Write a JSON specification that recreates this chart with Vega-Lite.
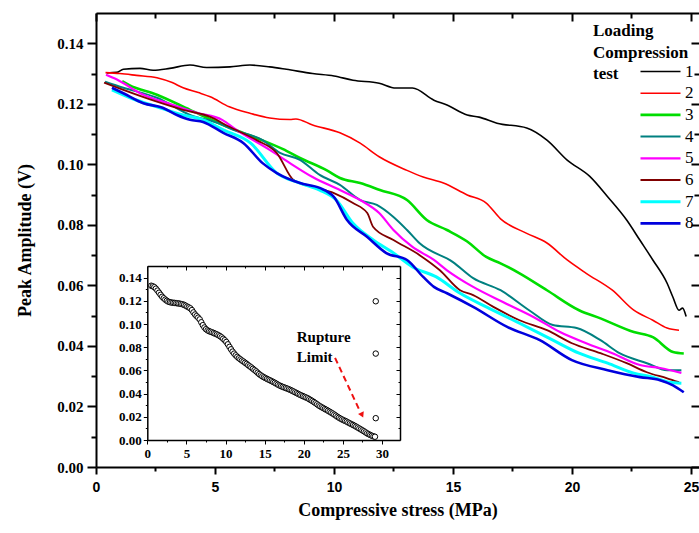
{
  "$schema": "https://vega.github.io/schema/vega-lite/v6.json",
  "autosize": {"type": "none"},
  "padding": {"left": 96, "top": 13, "right": 0, "bottom": 66},
  "width": 603,
  "height": 454,
  "background": "white",
  "config": {"view": {"stroke": null}, "font": "Liberation Serif"},
  "datasets": {
    "main": [
      {"t":"1","s":0.45,"a":0.1302},{"t":"1","s":0.87,"a":0.1304},{"t":"1","s":1.15,"a":0.1314},{"t":"1","s":1.85,"a":0.1317},{"t":"1","s":2.4,"a":0.1311},{"t":"1","s":3.1,"a":0.1317},{"t":"1","s":3.95,"a":0.1328},{"t":"1","s":4.65,"a":0.132},{"t":"1","s":5.63,"a":0.1322},{"t":"1","s":6.47,"a":0.1328},{"t":"1","s":7.3,"a":0.1322},{"t":"1","s":8.0,"a":0.1314},{"t":"1","s":9.1,"a":0.130},{"t":"1","s":10.0,"a":0.1292},{"t":"1","s":10.8,"a":0.1278},{"t":"1","s":11.9,"a":0.1268},{"t":"1","s":12.6,"a":0.1252},{"t":"1","s":13.3,"a":0.1252},{"t":"1","s":14.2,"a":0.1212},{"t":"1","s":14.75,"a":0.1196},{"t":"1","s":15.6,"a":0.1163},{"t":"1","s":16.1,"a":0.1156},{"t":"1","s":16.85,"a":0.1136},{"t":"1","s":18.1,"a":0.112},{"t":"1","s":18.95,"a":0.108},{"t":"1","s":19.8,"a":0.1014},{"t":"1","s":20.75,"a":0.096},{"t":"1","s":21.5,"a":0.0893},{"t":"1","s":22.3,"a":0.0816},{"t":"1","s":22.86,"a":0.0749},{"t":"1","s":23.4,"a":0.0684},{"t":"1","s":24.0,"a":0.0607},{"t":"1","s":24.25,"a":0.056},{"t":"1","s":24.5,"a":0.0518},{"t":"1","s":24.65,"a":0.0525},{"t":"1","s":24.8,"a":0.0497},
      {"t":"2","s":0.4,"a":0.1303},{"t":"2","s":1.0,"a":0.130},{"t":"2","s":1.7,"a":0.1294},{"t":"2","s":2.56,"a":0.1286},{"t":"2","s":3.2,"a":0.127},{"t":"2","s":3.66,"a":0.1253},{"t":"2","s":4.3,"a":0.1237},{"t":"2","s":4.8,"a":0.1223},{"t":"2","s":5.6,"a":0.119},{"t":"2","s":6.5,"a":0.1168},{"t":"2","s":7.3,"a":0.1153},{"t":"2","s":8.15,"a":0.1148},{"t":"2","s":8.4,"a":0.115},{"t":"2","s":9.1,"a":0.113},{"t":"2","s":10.25,"a":0.1104},{"t":"2","s":11.1,"a":0.107},{"t":"2","s":11.9,"a":0.1025},{"t":"2","s":13.07,"a":0.098},{"t":"2","s":13.75,"a":0.0958},{"t":"2","s":14.6,"a":0.0938},{"t":"2","s":15.6,"a":0.0899},{"t":"2","s":16.4,"a":0.0872},{"t":"2","s":17.0,"a":0.082},{"t":"2","s":18.1,"a":0.0772},{"t":"2","s":18.95,"a":0.074},{"t":"2","s":19.8,"a":0.0684},{"t":"2","s":20.6,"a":0.064},{"t":"2","s":21.7,"a":0.0584},{"t":"2","s":22.6,"a":0.0518},{"t":"2","s":23.4,"a":0.0485},{"t":"2","s":24.0,"a":0.0459},{"t":"2","s":24.5,"a":0.0452},
      {"t":"3","s":1.1,"a":0.1275},{"t":"3","s":1.4,"a":0.1262},{"t":"3","s":2.56,"a":0.123},{"t":"3","s":3.95,"a":0.118},{"t":"3","s":5.35,"a":0.113},{"t":"3","s":6.75,"a":0.1087},{"t":"3","s":7.86,"a":0.105},{"t":"3","s":8.57,"a":0.1021},{"t":"3","s":9.7,"a":0.098},{"t":"3","s":10.25,"a":0.0955},{"t":"3","s":11.1,"a":0.0938},{"t":"3","s":11.93,"a":0.0915},{"t":"3","s":13.07,"a":0.0882},{"t":"3","s":13.9,"a":0.0816},{"t":"3","s":14.75,"a":0.0783},{"t":"3","s":15.6,"a":0.0745},{"t":"3","s":16.4,"a":0.0694},{"t":"3","s":17.0,"a":0.0673},{"t":"3","s":17.8,"a":0.064},{"t":"3","s":18.95,"a":0.0584},{"t":"3","s":20.3,"a":0.0518},{"t":"3","s":21.2,"a":0.0491},{"t":"3","s":22.6,"a":0.0446},{"t":"3","s":23.4,"a":0.0429},{"t":"3","s":24.25,"a":0.038},{"t":"3","s":24.7,"a":0.0375},
      {"t":"4","s":0.38,"a":0.1273},{"t":"4","s":1.15,"a":0.1253},{"t":"4","s":2.56,"a":0.122},{"t":"4","s":3.95,"a":0.1163},{"t":"4","s":5.1,"a":0.1137},{"t":"4","s":5.77,"a":0.1114},{"t":"4","s":7.0,"a":0.108},{"t":"4","s":7.73,"a":0.1038},{"t":"4","s":8.57,"a":0.1015},{"t":"4","s":9.4,"a":0.0965},{"t":"4","s":10.25,"a":0.0932},{"t":"4","s":11.1,"a":0.0882},{"t":"4","s":11.8,"a":0.0866},{"t":"4","s":12.5,"a":0.0826},{"t":"4","s":13.07,"a":0.0783},{"t":"4","s":13.6,"a":0.0739},{"t":"4","s":15.0,"a":0.0677},{"t":"4","s":15.85,"a":0.0624},{"t":"4","s":17.0,"a":0.0584},{"t":"4","s":18.2,"a":0.0518},{"t":"4","s":19.2,"a":0.0469},{"t":"4","s":20.2,"a":0.0459},{"t":"4","s":21.2,"a":0.0419},{"t":"4","s":22.0,"a":0.0376},{"t":"4","s":23.15,"a":0.0343},{"t":"4","s":24.0,"a":0.032},{"t":"4","s":24.6,"a":0.032},
      {"t":"5","s":0.42,"a":0.1296},{"t":"5","s":0.88,"a":0.128},{"t":"5","s":1.85,"a":0.1235},{"t":"5","s":3.24,"a":0.1196},{"t":"5","s":4.24,"a":0.117},{"t":"5","s":5.3,"a":0.1147},{"t":"5","s":5.9,"a":0.1114},{"t":"5","s":7.3,"a":0.1048},{"t":"5","s":8.15,"a":0.1004},{"t":"5","s":9.1,"a":0.0958},{"t":"5","s":10.25,"a":0.0915},{"t":"5","s":11.1,"a":0.0882},{"t":"5","s":11.9,"a":0.0839},{"t":"5","s":12.5,"a":0.0783},{"t":"5","s":13.3,"a":0.0727},{"t":"5","s":14.2,"a":0.0684},{"t":"5","s":14.75,"a":0.065},{"t":"5","s":15.85,"a":0.0595},{"t":"5","s":17.1,"a":0.0545},{"t":"5","s":18.4,"a":0.0495},{"t":"5","s":19.5,"a":0.0446},{"t":"5","s":20.6,"a":0.0409},{"t":"5","s":21.7,"a":0.0376},{"t":"5","s":22.86,"a":0.0337},{"t":"5","s":23.7,"a":0.0327},{"t":"5","s":24.6,"a":0.0311},
      {"t":"6","s":0.34,"a":0.127},{"t":"6","s":1.15,"a":0.1246},{"t":"6","s":2.56,"a":0.1207},{"t":"6","s":3.66,"a":0.118},{"t":"6","s":4.8,"a":0.1157},{"t":"6","s":5.6,"a":0.1124},{"t":"6","s":6.75,"a":0.108},{"t":"6","s":7.6,"a":0.1037},{"t":"6","s":8.3,"a":0.0948},{"t":"6","s":9.1,"a":0.0925},{"t":"6","s":10.0,"a":0.0905},{"t":"6","s":10.8,"a":0.0872},{"t":"6","s":11.4,"a":0.0839},{"t":"6","s":11.65,"a":0.0793},{"t":"6","s":12.5,"a":0.075},{"t":"6","s":13.6,"a":0.070},{"t":"6","s":14.45,"a":0.065},{"t":"6","s":15.3,"a":0.0584},{"t":"6","s":15.85,"a":0.0568},{"t":"6","s":16.7,"a":0.0529},{"t":"6","s":17.8,"a":0.0485},{"t":"6","s":18.95,"a":0.0452},{"t":"6","s":20.0,"a":0.0409},{"t":"6","s":21.2,"a":0.0376},{"t":"6","s":22.3,"a":0.0343},{"t":"6","s":23.15,"a":0.0313},{"t":"6","s":24.0,"a":0.0293},{"t":"6","s":24.5,"a":0.028},
      {"t":"7","s":0.67,"a":0.1246},{"t":"7","s":1.43,"a":0.122},{"t":"7","s":2.56,"a":0.119},{"t":"7","s":3.66,"a":0.1163},{"t":"7","s":4.5,"a":0.1147},{"t":"7","s":5.35,"a":0.1114},{"t":"7","s":6.5,"a":0.107},{"t":"7","s":7.6,"a":0.0971},{"t":"7","s":8.57,"a":0.0938},{"t":"7","s":9.4,"a":0.0915},{"t":"7","s":10.1,"a":0.0882},{"t":"7","s":10.8,"a":0.0805},{"t":"7","s":11.65,"a":0.075},{"t":"7","s":12.5,"a":0.0707},{"t":"7","s":13.3,"a":0.0661},{"t":"7","s":14.3,"a":0.0628},{"t":"7","s":15.3,"a":0.0574},{"t":"7","s":16.4,"a":0.0529},{"t":"7","s":17.8,"a":0.0475},{"t":"7","s":19.2,"a":0.0419},{"t":"7","s":20.3,"a":0.0376},{"t":"7","s":21.5,"a":0.0343},{"t":"7","s":22.6,"a":0.031},{"t":"7","s":23.4,"a":0.0297},{"t":"7","s":24.1,"a":0.028},{"t":"7","s":24.6,"a":0.0277},
      {"t":"8","s":0.67,"a":0.1253},{"t":"8","s":1.15,"a":0.1235},{"t":"8","s":1.99,"a":0.1202},{"t":"8","s":2.8,"a":0.1187},{"t":"8","s":3.4,"a":0.1163},{"t":"8","s":3.95,"a":0.1147},{"t":"8","s":4.5,"a":0.114},{"t":"8","s":5.35,"a":0.1104},{"t":"8","s":6.2,"a":0.107},{"t":"8","s":7.0,"a":0.1004},{"t":"8","s":7.6,"a":0.0971},{"t":"8","s":8.57,"a":0.0938},{"t":"8","s":9.4,"a":0.0922},{"t":"8","s":10.0,"a":0.0892},{"t":"8","s":10.55,"a":0.0816},{"t":"8","s":11.4,"a":0.076},{"t":"8","s":12.2,"a":0.0707},{"t":"8","s":13.07,"a":0.0684},{"t":"8","s":13.75,"a":0.0628},{"t":"8","s":14.2,"a":0.0595},{"t":"8","s":14.75,"a":0.0574},{"t":"8","s":15.85,"a":0.0529},{"t":"8","s":17.3,"a":0.0462},{"t":"8","s":18.65,"a":0.0419},{"t":"8","s":20.0,"a":0.0353},{"t":"8","s":21.5,"a":0.032},{"t":"8","s":22.86,"a":0.0297},{"t":"8","s":23.7,"a":0.0287},{"t":"8","s":24.25,"a":0.027},{"t":"8","s":24.7,"a":0.0247}
    ],
    "inset": [
      {"s":0.5,"a":0.133},{"s":0.7,"a":0.1325},{"s":0.9,"a":0.1318},{"s":1.1,"a":0.1305},{"s":1.3,"a":0.1288},{"s":1.5,"a":0.127},{"s":1.7,"a":0.1252},{"s":1.9,"a":0.1235},{"s":2.1,"a":0.1222},{"s":2.3,"a":0.121},{"s":2.5,"a":0.12},{"s":2.7,"a":0.1192},{"s":2.9,"a":0.1188},{"s":3.1,"a":0.1185},{"s":3.3,"a":0.1183},{"s":3.5,"a":0.1182},{"s":3.7,"a":0.118},{"s":3.9,"a":0.1178},{"s":4.1,"a":0.1176},{"s":4.3,"a":0.1173},{"s":4.5,"a":0.117},{"s":4.7,"a":0.1165},{"s":4.9,"a":0.1158},{"s":5.1,"a":0.115},{"s":5.3,"a":0.1143},{"s":5.5,"a":0.1135},{"s":5.7,"a":0.112},{"s":5.9,"a":0.11},{"s":6.1,"a":0.1082},{"s":6.3,"a":0.1068},{"s":6.5,"a":0.1055},{"s":6.7,"a":0.104},{"s":6.9,"a":0.1015},{"s":7.1,"a":0.099},{"s":7.3,"a":0.097},{"s":7.5,"a":0.0955},{"s":7.7,"a":0.0945},{"s":7.9,"a":0.0938},{"s":8.1,"a":0.0933},{"s":8.3,"a":0.0928},{"s":8.5,"a":0.0922},{"s":8.7,"a":0.0916},{"s":8.9,"a":0.091},{"s":9.1,"a":0.0903},{"s":9.3,"a":0.0895},{"s":9.5,"a":0.0885},{"s":9.7,"a":0.0873},{"s":9.9,"a":0.086},{"s":10.1,"a":0.0845},{"s":10.3,"a":0.0825},{"s":10.5,"a":0.0803},{"s":10.7,"a":0.0782},{"s":10.9,"a":0.0762},{"s":11.1,"a":0.0745},{"s":11.3,"a":0.073},{"s":11.5,"a":0.0717},{"s":11.7,"a":0.0705},{"s":11.9,"a":0.0695},{"s":12.1,"a":0.0685},{"s":12.3,"a":0.0676},{"s":12.5,"a":0.0666},{"s":12.7,"a":0.0656},{"s":12.9,"a":0.0645},{"s":13.1,"a":0.0635},{"s":13.3,"a":0.0625},{"s":13.5,"a":0.0614},{"s":13.7,"a":0.0603},{"s":13.9,"a":0.0592},{"s":14.1,"a":0.058},{"s":14.3,"a":0.0568},{"s":14.5,"a":0.0558},{"s":14.7,"a":0.0549},{"s":14.9,"a":0.0541},{"s":15.1,"a":0.0534},{"s":15.3,"a":0.0527},{"s":15.5,"a":0.052},{"s":15.7,"a":0.0514},{"s":15.9,"a":0.0507},{"s":16.1,"a":0.05},{"s":16.3,"a":0.0493},{"s":16.5,"a":0.0485},{"s":16.7,"a":0.0477},{"s":16.9,"a":0.047},{"s":17.1,"a":0.0464},{"s":17.3,"a":0.0458},{"s":17.5,"a":0.0453},{"s":17.7,"a":0.0448},{"s":17.9,"a":0.0443},{"s":18.1,"a":0.0437},{"s":18.3,"a":0.0431},{"s":18.5,"a":0.0425},{"s":18.7,"a":0.0418},{"s":18.9,"a":0.0411},{"s":19.1,"a":0.0404},{"s":19.3,"a":0.0397},{"s":19.5,"a":0.039},{"s":19.7,"a":0.0384},{"s":19.9,"a":0.0378},{"s":20.1,"a":0.0372},{"s":20.3,"a":0.0366},{"s":20.5,"a":0.036},{"s":20.7,"a":0.0352},{"s":20.9,"a":0.0344},{"s":21.1,"a":0.0336},{"s":21.3,"a":0.0327},{"s":21.5,"a":0.0318},{"s":21.7,"a":0.0308},{"s":21.9,"a":0.0298},{"s":22.1,"a":0.029},{"s":22.3,"a":0.0282},{"s":22.5,"a":0.0275},{"s":22.7,"a":0.0267},{"s":22.9,"a":0.026},{"s":23.1,"a":0.0252},{"s":23.3,"a":0.0244},{"s":23.5,"a":0.0236},{"s":23.7,"a":0.0228},{"s":23.9,"a":0.0219},{"s":24.1,"a":0.021},{"s":24.3,"a":0.02},{"s":24.5,"a":0.0192},{"s":24.7,"a":0.0184},{"s":24.9,"a":0.0177},{"s":25.1,"a":0.017},{"s":25.3,"a":0.0164},{"s":25.5,"a":0.0158},{"s":25.7,"a":0.015},{"s":25.9,"a":0.0143},{"s":26.1,"a":0.0136},{"s":26.3,"a":0.013},{"s":26.5,"a":0.0122},{"s":26.7,"a":0.0115},{"s":26.9,"a":0.0107},{"s":27.1,"a":0.0099},{"s":27.3,"a":0.0091},{"s":27.5,"a":0.0083},{"s":27.7,"a":0.0075},{"s":27.9,"a":0.0066},{"s":28.1,"a":0.0057},{"s":28.3,"a":0.005},{"s":28.5,"a":0.0043},{"s":28.7,"a":0.0037},{"s":28.9,"a":0.0032},{"s":29.1,"a":0.0028},
      {"s":29.2,"a":0.1196},{"s":29.2,"a":0.0745},{"s":29.2,"a":0.0188}
    ],
    "notes": [
      {"label":"Rupture","s":19.1,"a":0.0887},
      {"label":"Limit","s":19.1,"a":0.0713}
    ],
    "arrow": [
      {"s":24.0,"a":0.0708,"s2":27.2,"a2":0.0245}
    ],
    "head": [
      {"s":27.45,"a":0.0215}
    ]
  },
  "resolve": {
    "scale": {"x": "independent", "y": "independent"},
    "axis": {"x": "independent", "y": "independent"}
  },
  "layer": [
    {
      "data": {"name": "main"},
      "mark": {"type": "line", "interpolate": "monotone"},
      "encoding": {
        "x": {
          "field": "s", "type": "quantitative",
          "scale": {"domain": [0, 25.34], "nice": false, "zero": false},
          "axis": {
            "orient": "bottom",
            "title": "Compressive stress (MPa)",
            "values": [0, 2.5, 5, 7.5, 10, 12.5, 15, 17.5, 20, 22.5, 25],
            "labelExpr": "datum.value % 5 == 0 ? format(datum.value, 'd') : ''",
            "tickSize": {"condition": {"test": "datum.value % 5 == 0", "value": 7}, "value": 4},
            "tickWidth": 2, "tickColor": "black",
            "domainColor": "black", "domainWidth": 2,
            "labelFont": "Liberation Sans", "labelFontWeight": "bold", "labelFontSize": 14, "labelColor": "black",
            "labelPadding": 6, "labelFlush": false, "labelOverlap": false,
            "titleFont": "Liberation Serif", "titleFontWeight": "bold", "titleFontSize": 18, "titleColor": "black",
            "titlePadding": 7, "grid": false
          }
        },
        "y": {
          "field": "a", "type": "quantitative",
          "scale": {"domain": [0, 0.15], "nice": false, "zero": false},
          "axis": {
            "orient": "left",
            "title": "Peak Amplitude (V)",
            "values": [0, 0.01, 0.02, 0.03, 0.04, 0.05, 0.06, 0.07, 0.08, 0.09, 0.1, 0.11, 0.12, 0.13, 0.14],
            "labelExpr": "round(datum.value * 100) % 2 == 0 ? format(datum.value, '.2f') : ''",
            "tickSize": {"condition": {"test": "round(datum.value * 100) % 2 == 0", "value": 9}, "value": 5},
            "tickWidth": 2, "tickColor": "black",
            "domainColor": "black", "domainWidth": 2,
            "labelFont": "Liberation Serif", "labelFontWeight": "bold", "labelFontSize": 15, "labelColor": "black",
            "labelPadding": 4, "labelOverlap": false, "labelFlush": false,
            "titleFont": "Liberation Serif", "titleFontWeight": "bold", "titleFontSize": 18, "titleColor": "black",
            "titlePadding": 22, "grid": false
          }
        },
        "color": {
          "field": "t", "type": "nominal",
          "scale": {
            "domain": ["1", "2", "3", "4", "5", "6", "7", "8"],
            "range": ["#000000", "#ff0000", "#00dd00", "#008080", "#ff00ff", "#800000", "#00ffff", "#0000dd"]
          },
          "legend": {
            "orient": "none", "legendX": 497, "legendY": 10,
            "title": ["Loading", "Compression", "test"],
            "titleFont": "Liberation Serif", "titleFontWeight": "bold", "titleFontSize": 17,
            "titleLineHeight": 21.5, "titlePadding": -21.5, "titleColor": "black",
            "symbolType": "stroke", "symbolSize": 1600, "symbolStrokeWidth": 2,
            "symbolOffset": 46, "labelOffset": 3,
            "labelFont": "Liberation Serif", "labelFontSize": 17, "labelColor": "black",
            "clipHeight": 20, "rowPadding": 1.7, "padding": 0
          }
        },
        "strokeWidth": {
          "field": "t", "type": "ordinal",
          "scale": {"type": "ordinal", "domain": ["1", "2", "3", "4", "5", "6", "7", "8"], "range": [1.6, 1.6, 2.6, 2, 2.2, 1.8, 3, 2.6]},
          "legend": null
        }
      }
    },
    {
      "data": {"name": "main"},
      "mark": {"type": "point", "opacity": 0},
      "encoding": {
        "x": {
          "field": "s", "type": "quantitative",
          "scale": {"domain": [0, 25.34], "nice": false, "zero": false},
          "axis": {
            "orient": "top", "title": null, "labels": false,
            "values": [0, 2.5, 5, 7.5, 10, 12.5, 15, 17.5, 20, 22.5, 25],
            "tickSize": {"condition": {"test": "datum.value % 5 == 0", "value": -8}, "value": -5},
            "tickWidth": 2, "tickColor": "black", "domainColor": "black", "domainWidth": 2, "grid": false
          }
        },
        "y": {
          "field": "a", "type": "quantitative",
          "scale": {"domain": [0, 0.15], "nice": false, "zero": false},
          "axis": {
            "orient": "right", "title": null, "labels": false, "domain": false,
            "values": [0, 0.01, 0.02, 0.03, 0.04, 0.05, 0.06, 0.07, 0.08, 0.09, 0.1, 0.11, 0.12, 0.13, 0.14],
            "tickSize": {"condition": {"test": "round(datum.value * 100) % 2 == 0", "value": -8}, "value": -5},
            "tickWidth": 2, "tickColor": "black", "grid": false
          }
        }
      }
    },
    {
      "data": {"name": "inset"},
      "mark": {"type": "point", "shape": "circle", "filled": true, "fill": "white", "stroke": "black", "strokeWidth": 1, "size": 30, "opacity": 1},
      "encoding": {
        "x": {
          "field": "s", "type": "quantitative",
          "scale": {"domain": [0, 32.3], "range": [51.3, 304], "nice": false, "zero": false},
          "axis": {
            "orient": "bottom", "offset": -27, "title": null,
            "values": [0, 2.5, 5, 7.5, 10, 12.5, 15, 17.5, 20, 22.5, 25, 27.5, 30],
            "labelExpr": "datum.value % 5 == 0 ? format(datum.value, 'd') : ''",
            "tickSize": {"condition": {"test": "datum.value % 5 == 0", "value": 4}, "value": 2},
            "tickWidth": 1, "tickColor": "black", "domainColor": "black", "domainWidth": 1.5,
            "labelFont": "Liberation Serif", "labelFontWeight": "bold", "labelFontSize": 13, "labelColor": "black",
            "labelPadding": 3, "labelFlush": false, "labelOverlap": false, "grid": false
          }
        },
        "y": {
          "field": "a", "type": "quantitative",
          "scale": {"domain": [0, 0.15], "range": [427, 253], "nice": false, "zero": false},
          "axis": {
            "orient": "left", "offset": -51.3, "title": null,
            "values": [0, 0.01, 0.02, 0.03, 0.04, 0.05, 0.06, 0.07, 0.08, 0.09, 0.1, 0.11, 0.12, 0.13, 0.14],
            "labelExpr": "round(datum.value * 100) % 2 == 0 ? format(datum.value, '.2f') : ''",
            "tickSize": {"condition": {"test": "round(datum.value * 100) % 2 == 0", "value": 4}, "value": 2},
            "tickWidth": 1, "tickColor": "black", "domainColor": "black", "domainWidth": 1.5,
            "labelFont": "Liberation Serif", "labelFontWeight": "bold", "labelFontSize": 13, "labelColor": "black",
            "labelPadding": 2, "labelFlush": false, "labelOverlap": false, "grid": false
          }
        }
      }
    },
    {
      "data": {"name": "inset"},
      "mark": {"type": "point", "opacity": 0},
      "encoding": {
        "x": {
          "field": "s", "type": "quantitative",
          "scale": {"domain": [0, 32.3], "range": [51.3, 304], "nice": false, "zero": false},
          "axis": {
            "orient": "top", "offset": -253, "title": null, "labels": false,
            "values": [0, 2.5, 5, 7.5, 10, 12.5, 15, 17.5, 20, 22.5, 25, 27.5, 30],
            "tickSize": {"condition": {"test": "datum.value % 5 == 0", "value": -4}, "value": -2},
            "tickWidth": 1, "tickColor": "black", "domainColor": "black", "domainWidth": 1.5, "grid": false
          }
        },
        "y": {
          "field": "a", "type": "quantitative",
          "scale": {"domain": [0, 0.15], "range": [427, 253], "nice": false, "zero": false},
          "axis": {
            "orient": "right", "offset": -299, "title": null, "labels": false,
            "values": [0, 0.01, 0.02, 0.03, 0.04, 0.05, 0.06, 0.07, 0.08, 0.09, 0.1, 0.11, 0.12, 0.13, 0.14],
            "tickSize": {"condition": {"test": "round(datum.value * 100) % 2 == 0", "value": -4}, "value": -2},
            "tickWidth": 1, "tickColor": "black", "domainColor": "black", "domainWidth": 1.5, "grid": false
          }
        }
      }
    },
    {
      "data": {"name": "notes"},
      "mark": {"type": "text", "align": "left", "baseline": "middle", "font": "Liberation Serif", "fontWeight": "bold", "fontSize": 15, "color": "black"},
      "encoding": {
        "x": {"field": "s", "type": "quantitative", "scale": {"domain": [0, 32.3], "range": [51.3, 304], "nice": false, "zero": false}, "axis": null},
        "y": {"field": "a", "type": "quantitative", "scale": {"domain": [0, 0.15], "range": [427, 253], "nice": false, "zero": false}, "axis": null},
        "text": {"field": "label", "type": "nominal"}
      }
    },
    {
      "data": {"name": "arrow"},
      "mark": {"type": "rule", "color": "#ee1111", "strokeWidth": 2, "strokeDash": [6, 4]},
      "encoding": {
        "x": {"field": "s", "type": "quantitative", "scale": {"domain": [0, 32.3], "range": [51.3, 304], "nice": false, "zero": false}, "axis": null},
        "y": {"field": "a", "type": "quantitative", "scale": {"domain": [0, 0.15], "range": [427, 253], "nice": false, "zero": false}, "axis": null},
        "x2": {"field": "s2"},
        "y2": {"field": "a2"}
      }
    },
    {
      "data": {"name": "head"},
      "mark": {"type": "point", "shape": "triangle-down", "filled": true, "color": "#ee1111", "size": 40, "angle": 335, "opacity": 1},
      "encoding": {
        "x": {"field": "s", "type": "quantitative", "scale": {"domain": [0, 32.3], "range": [51.3, 304], "nice": false, "zero": false}, "axis": null},
        "y": {"field": "a", "type": "quantitative", "scale": {"domain": [0, 0.15], "range": [427, 253], "nice": false, "zero": false}, "axis": null}
      }
    }
  ]
}
